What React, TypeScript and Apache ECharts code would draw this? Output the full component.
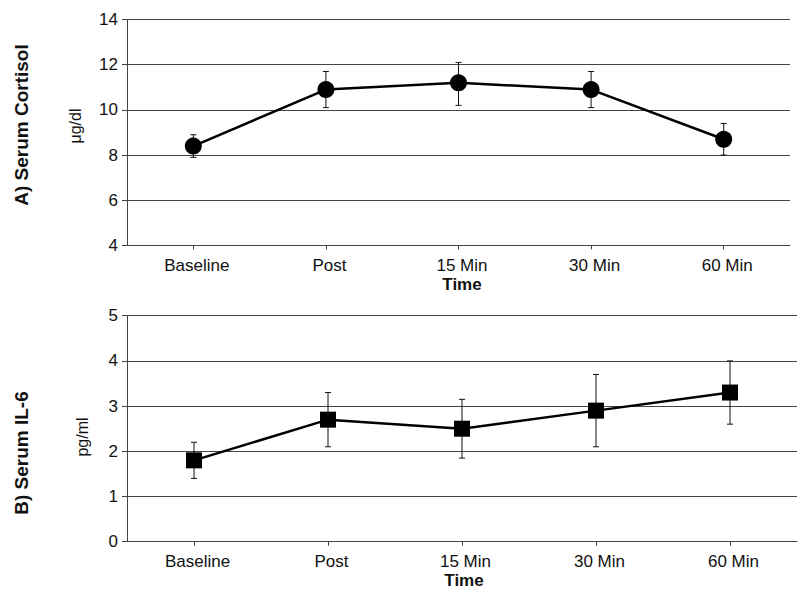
import React, { useEffect, useRef } from "react";
import * as echarts from "echarts";

const categories = ["Baseline", "Post", "15 Min", "30 Min", "60 Min"];
const cortisolMean = [8.4, 10.9, 11.2, 10.9, 8.7];
const cortisolLow = [7.9, 10.1, 10.2, 10.1, 8.0];
const cortisolHigh = [8.9, 11.7, 12.1, 11.7, 9.4];
const il6Mean = [1.8, 2.7, 2.5, 2.9, 3.3];
const il6Low = [1.4, 2.1, 1.85, 2.1, 2.6];
const il6High = [2.2, 3.3, 3.15, 3.7, 4.0];

const FONT = "'Liberation Sans', Arial, sans-serif";

function errorBars(low: number[], high: number[], idx: number) {
  return {
    type: "custom",
    xAxisIndex: idx,
    yAxisIndex: idx,
    z: 1,
    data: low.map((l, i) => [i, l, high[i]]),
    renderItem: (params: any, api: any) => {
      const top = api.coord([api.value(0), api.value(2)]);
      const bot = api.coord([api.value(0), api.value(1)]);
      const w = 3;
      const style = { stroke: "#111", lineWidth: 1 };
      return {
        type: "group",
        children: [
          { type: "line", shape: { x1: top[0], y1: top[1], x2: bot[0], y2: bot[1] }, style },
          { type: "line", shape: { x1: top[0] - w, y1: top[1], x2: top[0] + w, y2: top[1] }, style },
          { type: "line", shape: { x1: bot[0] - w, y1: bot[1], x2: bot[0] + w, y2: bot[1] }, style },
        ],
      };
    },
  };
}

function xAxis(idx: number) {
  return {
    type: "category",
    gridIndex: idx,
    data: categories,
    boundaryGap: true,
    axisLine: { show: true, lineStyle: { color: "#444", width: 1 } },
    axisTick: { show: true, alignWithLabel: true, length: 4, lineStyle: { color: "#444" } },
    axisLabel: { color: "#111", fontSize: 17, fontFamily: FONT, margin: 11, padding: [0, 0, 0, 7] },
    splitLine: { show: false },
  };
}

function yAxis(idx: number, min: number, max: number, interval: number) {
  return {
    type: "value",
    gridIndex: idx,
    min,
    max,
    interval,
    axisLine: { show: true, lineStyle: { color: "#444", width: 1 } },
    axisTick: { show: true, length: 5, lineStyle: { color: "#444" } },
    axisLabel: { color: "#111", fontSize: 17, fontFamily: FONT, margin: 9 },
    splitLine: { show: true, lineStyle: { color: "#444", width: 1 } },
  };
}

export default function App() {
  const ref = useRef<HTMLDivElement>(null);
  useEffect(() => {
    const chart = echarts.init(ref.current!, null, { renderer: "svg" });
    chart.setOption({
      animation: false,
      backgroundColor: "#fff",
      grid: [
        { left: 127, right: 17, top: 19.5, height: 226 },
        { left: 127, right: 10, top: 315.7, height: 226 },
      ],
      xAxis: [xAxis(0), xAxis(1)],
      yAxis: [yAxis(0, 4, 14, 2), yAxis(1, 0, 5, 1)],
      graphic: [
        { type: "text", x: 21, y: 125, rotation: Math.PI / 2, style: { text: "A) Serum Cortisol", font: `bold 19px ${FONT}`, fill: "#111", align: "center", verticalAlign: "middle" } },
        { type: "text", x: 21, y: 453, rotation: Math.PI / 2, style: { text: "B) Serum IL-6", font: `bold 19px ${FONT}`, fill: "#111", align: "center", verticalAlign: "middle" } },
        { type: "text", x: 75, y: 126, rotation: Math.PI / 2, style: { text: "μg/dl", font: `16px ${FONT}`, fill: "#111", align: "center", verticalAlign: "middle" } },
        { type: "text", x: 82, y: 437, rotation: Math.PI / 2, style: { text: "pg/ml", font: `16px ${FONT}`, fill: "#111", align: "center", verticalAlign: "middle" } },
        { type: "text", x: 462, y: 284, style: { text: "Time", font: `bold 17px ${FONT}`, fill: "#111", align: "center", verticalAlign: "middle" } },
        { type: "text", x: 464, y: 580, style: { text: "Time", font: `bold 17px ${FONT}`, fill: "#111", align: "center", verticalAlign: "middle" } },
      ],
      series: [
        errorBars(cortisolLow, cortisolHigh, 0),
        {
          type: "line",
          xAxisIndex: 0,
          yAxisIndex: 0,
          z: 3,
          data: cortisolMean,
          symbol: "circle",
          symbolSize: 17,
          lineStyle: { color: "#000", width: 2.5 },
          itemStyle: { color: "#000" },
        },
        errorBars(il6Low, il6High, 1),
        {
          type: "line",
          xAxisIndex: 1,
          yAxisIndex: 1,
          z: 3,
          data: il6Mean,
          symbol: "rect",
          symbolSize: 16,
          lineStyle: { color: "#000", width: 2.5 },
          itemStyle: { color: "#000" },
        },
      ],
    });
    return () => chart.dispose();
  }, []);
  return <div ref={ref} style={{ position: "absolute", left: 0, top: 0, width: 807, height: 599 }} />;
}
